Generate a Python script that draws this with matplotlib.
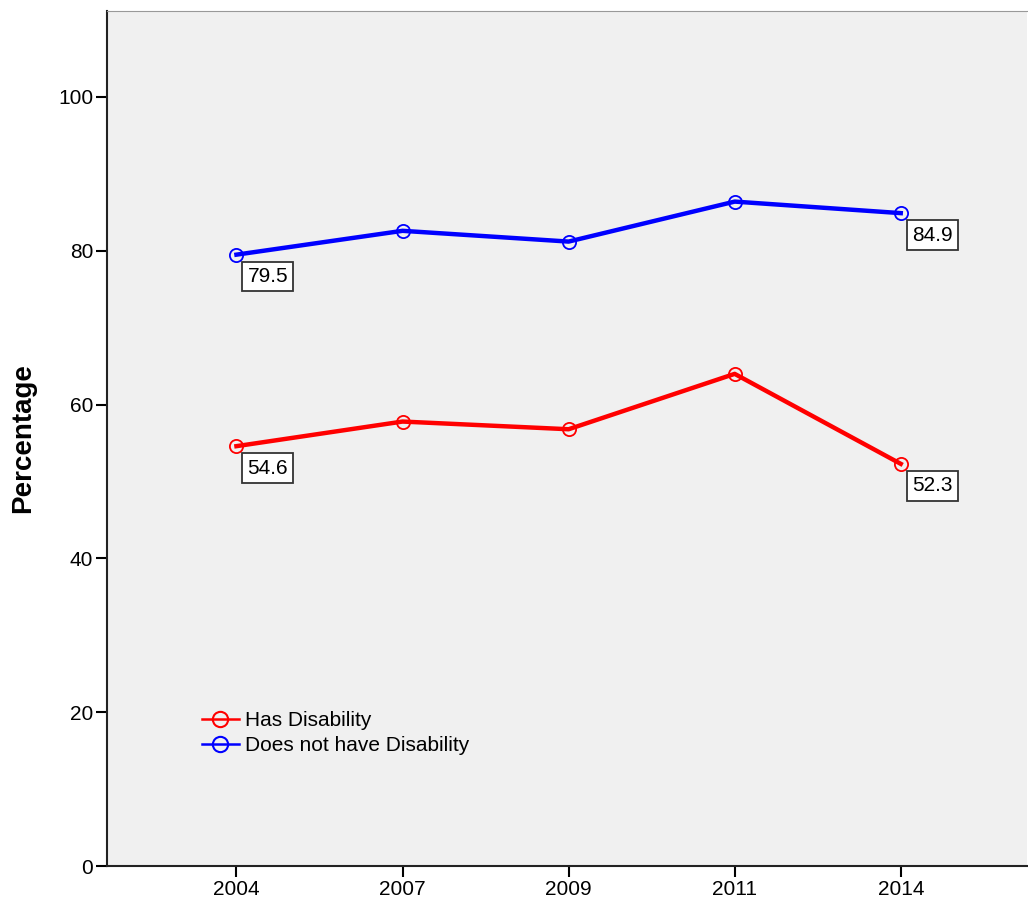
import numpy as np
import matplotlib
matplotlib.use("Agg")
import matplotlib.pyplot as plt
from matplotlib.lines import Line2D

plt.rcParams['font.family'] = ['Liberation Sans', 'DejaVu Sans']

# data
years = ["2004", "2007", "2009", "2011", "2014"]
has_disability = [54.6, 57.8, 56.8, 64.0, 52.3]
no_disability = [79.5, 82.6, 81.2, 86.4, 84.9]
yticks = [0, 20, 40, 60, 80, 100]
series_names = ["Has Disability", "Does not have Disability"]
colors = ["#ff0000", "#0000ff"]

fig = plt.figure(figsize=(10.28, 9.05), dpi=100)
ax = fig.add_axes([0.104, 0.043, 0.895, 0.945])
ax.set_facecolor("#f0f0f0")

x = np.arange(len(years))
for vals, c in zip((has_disability, no_disability), colors):
    ax.plot(x, vals, color=c, lw=3.2, marker="o", ms=9.5,
            mfc="none", mec=c, mew=1.3)

# value labels at first and last points
for series in (has_disability, no_disability):
    for i in (0, len(years) - 1):
        ax.annotate(f"{series[i]:.1f}", (x[i], series[i]), xytext=(8, -9),
                    textcoords="offset points", ha="left", va="top", fontsize=15,
                    bbox=dict(boxstyle="square,pad=0.25", fc="white", ec="#333333", lw=1.3))

ax.set_xlim(-0.78, 4.76)
ax.set_ylim(0, 111.2)
ax.set_xticks(x)
ax.set_xticklabels(years)
ax.set_yticks(yticks)
ax.tick_params(axis="both", labelsize=15, length=8, width=1.5, direction="out", pad=2)
ax.set_ylabel("Percentage", fontsize=20, fontweight="bold", labelpad=16)

for s in ("left", "bottom"):
    ax.spines[s].set_linewidth(1.5)
    ax.spines[s].set_color("#222222")
ax.spines["top"].set_color("#999999")
ax.spines["right"].set_visible(False)

handles = [Line2D([], [], color=c, lw=1.8, marker="o", ms=11, mfc="none", mec=c, mew=1.5)
           for c in colors]
ax.legend(handles, series_names, loc="lower left", bbox_to_anchor=(0.094, 0.12),
          frameon=False, fontsize=15, handlelength=1.8, handletextpad=0.3,
          labelspacing=0.3, borderaxespad=0)

fig.savefig("out.png", dpi=100)
